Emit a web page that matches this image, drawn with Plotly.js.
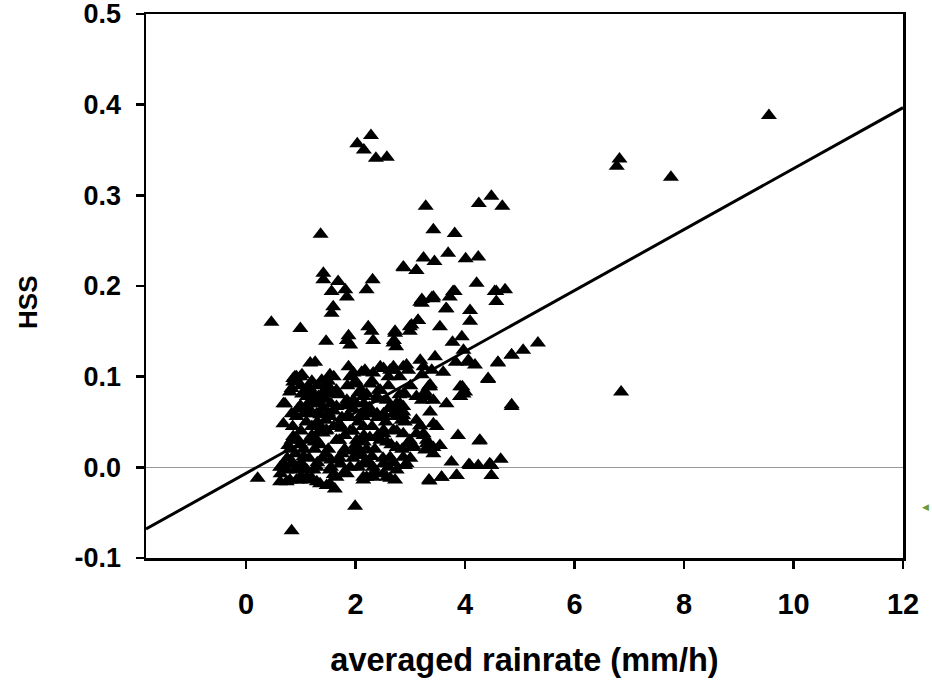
<!DOCTYPE html>
<html>
<head>
<meta charset="utf-8">
<script src="https://cdn.plot.ly/plotly-3.0.1.min.js"></script>
<style>html,body{margin:0;padding:0;background:#fff;}#chart{width:932px;height:685px;}</style>
</head>
<body>
<div id="chart"></div>
<script>
// averaged rainrate (mm/h) and HSS
const pointsX = [
9.55,6.77,6.82,7.76,6.85,2.03,2.15,2.28,2.37,2.57,0.83,1.99,0.21,0.46,0.99,1.46,1.41,1.41,1.68,1.56,1.81,1.84,1.59,1.56,
2.31,2.20,1.87,1.90,1.84,2.23,2.29,2.32,2.72,2.70,2.74,3.02,2.99,3.14,2.87,3.11,3.21,3.41,3.72,3.81,3.65,3.54,3.77,3.94,
4.09,4.09,4.21,4.57,4.73,4.57,3.45,3.60,3.39,3.97,4.06,4.18,4.60,4.85,4.42,3.91,3.97,3.91,4.85,3.66,3.87,4.27,
3.75,4.09,4.24,4.48,4.65,4.48,3.34,3.57,3.85,3.48,3.36,3.54,3.42,3.18,3.11,3.30,3.27,3.05,2.99,
2.51,2.69,2.87,2.57,2.75,2.63,2.87,2.93,2.75,2.72,2.63,2.51,2.20,2.29,2.14,1.35,1.47,1.62,0.62,0.80,0.99,1.17,
0.63,0.71,0.83,0.92,1.05,1.23,0.83,0.77,0.68,0.71,0.83,0.86,0.99,1.02,1.11,1.20,1.05,0.92,
1.17,1.26,1.38,1.53,1.47,1.41,1.53,1.32,1.87,1.96,2.17,2.32,2.45,2.63,2.69,2.87,2.96,3.18,3.24,3.36,3.30,3.11,2.90,
1.96,2.20,2.39,2.57,2.63,2.75,2.87,2.81,2.69,2.51,2.32,2.14,
3.28,4.25,4.48,4.68,3.42,3.81,2.88,3.11,3.24,3.44,3.69,4.01,4.24,4.54,3.78,3.42,3.21,1.36,
5.33,5.06,4.85,4.60,4.42,4.85,3.95,3.91,4.00,4.26,4.45,4.07,3.84,3.57,3.35,3.24,3.05,2.96,2.90,
3.18,3.39,3.66,3.14,2.99,2.72,2.69,3.83,4.06,2.93,2.69,2.51,3.33,3.21,2.81,2.75,2.87,3.42,
0.92,0.86,0.80,0.68,0.83,0.86,1.11,1.17,0.99,1.29,1.35,1.41,1.53,
2.11,2.02,2.26,2.42,2.14,2.39,2.14,2.51,2.26,2.02,1.84,1.65,1.72,1.47,1.84,1.53,1.35,1.29,
0.68,0.62,0.74,0.92,1.11,1.29,1.53,1.72,1.90,2.14,2.32,2.51,0.74,0.92,1.11,1.29,1.53,1.65,1.84,2.14,2.32,2.57,
0.75,0.80,0.85,0.90,0.95,1.00,1.00,1.05,1.10,1.15,1.20,1.25,1.30,1.30,1.35,1.40,1.40,1.45,1.50,1.55,1.55,1.60,1.65,1.70,
1.70,1.75,1.80,1.80,1.85,1.90,1.95,1.95,2.00,2.05,2.10,2.10,2.15,2.20,2.25,2.30,2.35,2.40,2.45,2.50,2.55,2.60,2.65,2.70,
2.75,2.80,2.85,2.90,3.00,3.00,1.00,1.10,1.20,1.30,1.50,1.60,1.90,2.00,2.30,2.60,2.80,1.25,1.45,1.65,2.15,2.45,2.70,0.95,
1.15,1.35,1.75,2.05,2.35,2.60,1.60,1.00,1.20,1.80,2.20,2.40,2.00,1.90,1.70,1.45,1.15,0.85,
1.02,0.89,1.23,1.32,1.17,3.21,3.36,3.27,3.42,3.36,2.87,2.75,2.63,2.51,2.87,2.84,3.11,3.18,3.24,3.30,3.42,2.08,2.02,2.20,
1.05,1.25,1.40,1.55,1.75,1.95,2.15,2.30,1.10,1.35,1.60,1.85,2.05,2.25,1.00,1.20,1.45,1.70,1.95,2.40,1.15,1.50,1.80,2.10
];
const pointsY = [
0.388,0.332,0.340,0.320,0.083,0.357,0.350,0.366,0.341,0.342,-0.070,-0.043,-0.012,0.160,0.153,0.139,0.214,0.207,0.205,0.194,0.196,0.188,0.177,0.170,
0.207,0.196,0.145,0.135,0.140,0.155,0.150,0.140,0.150,0.140,0.133,0.157,0.150,0.162,0.221,0.217,0.181,0.186,0.188,0.194,0.175,0.155,0.138,0.144,
0.173,0.161,0.203,0.194,0.196,0.183,0.122,0.105,0.107,0.129,0.118,0.113,0.115,0.124,0.098,0.089,0.081,0.078,0.069,0.070,0.035,0.030,
0.006,0.002,0.002,0.002,0.009,-0.009,-0.014,-0.011,-0.009,0.045,0.022,0.024,0.015,0.046,0.037,0.030,0.019,0.022,0.030,
0.037,0.041,0.037,0.028,0.022,0.011,0.011,0.004,-0.003,-0.014,-0.012,-0.007,-0.011,-0.009,-0.014,-0.018,-0.020,-0.024,-0.016,-0.014,-0.014,-0.014,
-0.007,0.000,0.004,-0.003,-0.001,-0.003,0.030,0.024,0.048,0.070,0.087,0.098,0.100,0.081,0.078,0.081,0.059,0.056,
0.115,0.116,0.096,0.102,0.091,0.081,0.081,0.074,0.111,0.104,0.107,0.104,0.111,0.107,0.111,0.111,0.107,0.118,0.111,0.089,0.078,0.078,0.081,
0.074,0.081,0.078,0.074,0.067,0.070,0.067,0.059,0.059,0.059,0.059,0.056,
0.288,0.291,0.299,0.288,0.262,0.258,0.220,0.217,0.231,0.227,0.236,0.230,0.232,0.194,0.194,0.188,0.185,0.257,
0.137,0.129,0.124,0.116,0.097,0.067,0.089,0.078,0.083,0.029,0.004,0.003,-0.009,-0.011,-0.015,0.037,0.024,0.026,0.002,
0.182,0.187,0.175,0.162,0.155,0.148,0.137,0.116,0.116,0.113,0.107,0.109,0.089,0.074,0.070,0.056,0.057,0.048,
0.100,0.094,0.083,0.070,0.059,0.034,0.061,0.072,0.068,0.059,0.070,0.083,0.087,
0.105,0.092,0.092,0.085,0.078,0.059,0.045,0.041,0.033,0.030,0.074,0.067,0.045,0.041,0.056,0.056,0.041,0.030,
0.004,0.000,-0.003,0.000,-0.003,0.000,-0.003,0.004,0.000,0.004,0.000,0.004,-0.016,-0.014,-0.011,-0.016,-0.018,-0.011,-0.007,-0.011,-0.011,-0.011,
0.010,0.020,0.045,0.015,0.030,0.005,0.040,0.020,0.050,0.010,0.035,0.020,0.005,0.050,0.025,0.065,0.010,0.040,0.020,0.070,0.000,0.045,0.030,0.010,
0.080,0.055,0.020,0.035,0.090,0.040,0.010,0.065,0.025,0.050,0.015,0.085,0.035,0.060,0.005,0.045,0.020,0.075,0.030,0.010,0.050,0.090,0.025,0.005,
0.040,0.080,0.020,0.050,0.090,0.010,0.090,0.085,0.095,0.090,0.095,0.100,0.100,0.095,0.095,0.100,0.100,0.070,0.075,0.085,0.070,0.085,0.065,0.065,
0.060,0.045,0.015,0.000,-0.005,0.000,-0.008,-0.010,-0.012,-0.005,0.020,0.055,0.070,0.055,0.030,0.015,0.030,0.005,
0.102,0.100,0.081,0.078,0.063,0.102,0.091,0.083,0.074,0.061,0.081,0.070,0.065,0.056,0.061,0.052,0.052,0.046,0.035,0.026,0.022,0.013,0.022,0.019,
0.012,0.028,0.038,0.008,0.043,0.018,0.028,0.012,0.068,0.058,0.062,0.072,0.082,0.066,0.025,0.045,0.052,0.048,0.040,0.035,0.088,0.060,0.068,0.058
];
// regression line
const fitX = [-1.83, 12];
const fitSlope = 0.0336;
const fitIntercept = -0.0065;
const fitY = fitX.map(x => fitIntercept + fitSlope * x);

const xTicks = [0, 2, 4, 6, 8, 10, 12];
const yTicks = [-0.1, 0.0, 0.1, 0.2, 0.3, 0.4, 0.5];

const FONT = '"Liberation Sans", Arial, sans-serif';

const traces = [
  {x: fitX, y: fitY, mode: 'lines', type: 'scatter', line: {color: '#000', width: 3}, hoverinfo: 'skip'},
  {x: pointsX, y: pointsY, mode: 'markers', type: 'scatter',
   marker: {symbol: 'triangle-up', size: 14, color: '#000', line: {width: 0}}}
];

const layout = {
  width: 932, height: 685,
  margin: {l: 146, r: 29, t: 14, b: 127, pad: 0},
  paper_bgcolor: '#fff', plot_bgcolor: '#fff',
  showlegend: false,
  font: {family: FONT, color: '#000'},
  xaxis: {
    range: [-1.83, 12], tickvals: xTicks, ticktext: xTicks.map(String),
    showgrid: false, zeroline: false, showline: true, mirror: true, linecolor: '#000', linewidth: 2.5,
    ticks: 'outside', ticklen: 8, tickwidth: 2.5, tickcolor: '#000',
    ticklabelstandoff: 11, ticklabeloverflow: 'allow',
    tickfont: {family: FONT, size: 29, weight: 'bold', color: '#000'},
    title: {text: 'averaged rainrate (mm/h)', font: {family: FONT, size: 32.5, weight: 'bold', color: '#000'}, standoff: 29}
  },
  yaxis: {
    range: [-0.1, 0.5], tickvals: yTicks, ticktext: yTicks.map(v => v.toFixed(1)),
    showgrid: false, zeroline: true, zerolinecolor: '#999', zerolinewidth: 1.5,
    showline: true, mirror: true, linecolor: '#000', linewidth: 2.5,
    ticks: 'outside', ticklen: 8, tickwidth: 2.5, tickcolor: '#000',
    ticklabelstandoff: 9, ticklabeloverflow: 'allow',
    tickfont: {family: FONT, size: 27, weight: 'bold', color: '#000'}
  },
  annotations: [
    {xref: 'paper', yref: 'paper', x: -0.156, y: 0.4706, text: 'HSS', textangle: -90, showarrow: false,
     font: {family: FONT, size: 26, weight: 'bold', color: '#000'}, xanchor: 'center', yanchor: 'middle'},
    {xref: 'paper', yref: 'paper', x: 1.022, y: 0.094, text: '◀', showarrow: false,
     font: {size: 9, color: '#6a9a3a'}, xanchor: 'left', yanchor: 'middle'}
  ]
};

Plotly.newPlot('chart', traces, layout, {displayModeBar: false, staticPlot: true});
</script>
</body>
</html>
